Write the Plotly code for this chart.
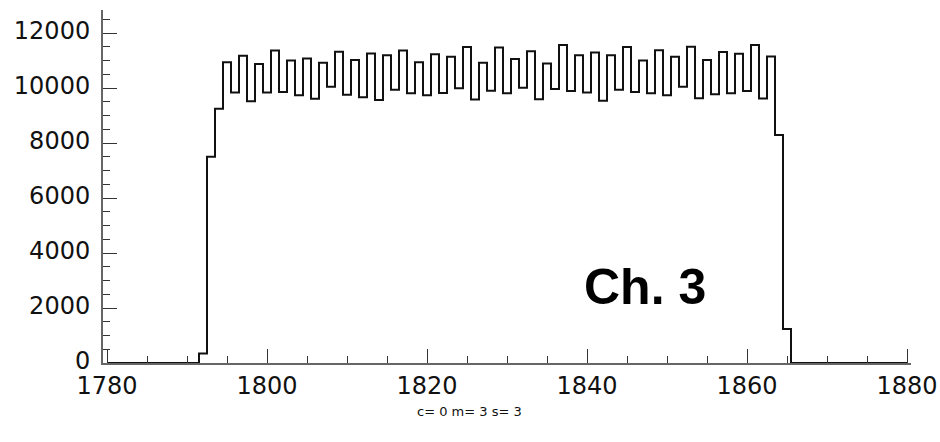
import plotly.graph_objects as go

# Bin centres (unit-wide bins from 1780 to 1880)
bin_centers = list(range(1780, 1881))

# Counts per bin
counts_left_zero = [0] * 12  # 1780..1791
counts_signal = [
    350, 7500, 9250,                      # 1792..1794
    10940, 9840, 11180, 9520, 10880, 9840, 11370, 9860, 11000, 9740,   # 1795..1804
    11080, 9610, 10920, 10050, 11320, 9760, 11020, 9670, 11260, 9570,  # 1805..1814
    11190, 9940, 11370, 9810, 10940, 9740, 11230, 9820, 11140, 9990,   # 1815..1824
    11490, 9580, 10920, 9900, 11480, 9810, 11060, 10010, 11340, 9590,  # 1825..1834
    10890, 9970, 11570, 9890, 11190, 9840, 11290, 9540, 11190, 9940,   # 1835..1844
    11490, 9860, 11000, 9810, 11380, 9740, 11140, 10050, 11500, 9630,  # 1845..1854
    11020, 9780, 11310, 9810, 11250, 9890, 11570, 9620, 11150,         # 1855..1863
    8290, 1240,                           # 1864..1865
]
counts_right_zero = [0] * 15  # 1866..1880
counts = counts_left_zero + counts_signal + counts_right_zero

x_range = [1779.5, 1880.5]
y_range = [0, 12840]
x_tick_vals = [1780, 1800, 1820, 1840, 1860, 1880]
y_tick_vals = [0, 2000, 4000, 6000, 8000, 10000, 12000]

fig = go.Figure()
fig.add_trace(go.Scatter(
    x=bin_centers, y=counts, mode="lines",
    line=dict(color="#111111", width=2, shape="hvh"),
    showlegend=False, hoverinfo="skip",
))

axis_font = dict(family="DejaVu Sans", size=24, color="#111111")

fig.update_xaxes(
    range=x_range, tickmode="array", tickvals=x_tick_vals,
    ticktext=[str(v) for v in x_tick_vals],
    ticks="inside", ticklen=14, tickwidth=1.3, tickcolor="#333333",
    minor=dict(ticks="inside", ticklen=7, dtick=5, tick0=1780, tickcolor="#333333", tickwidth=1.3),
    showline=True, linecolor="#666666", linewidth=2, mirror=False,
    showgrid=False, zeroline=False, tickfont=axis_font, automargin=False,
)
fig.update_yaxes(
    range=y_range, tickmode="array", tickvals=y_tick_vals,
    ticktext=[str(v) for v in y_tick_vals],
    ticks="inside", ticklen=14, tickwidth=1.3, tickcolor="#333333",
    minor=dict(ticks="inside", ticklen=7, dtick=500, tick0=0, tickcolor="#333333", tickwidth=1.3),
    showline=True, linecolor="#666666", linewidth=2, mirror=False,
    showgrid=False, zeroline=False, tickfont=axis_font, ticklabelstandoff=6,
    ticklabelshift=-2, automargin=False,
)

fig.add_annotation(
    x=1847.2, y=2760, xref="x", yref="y", text="<b>Ch. 3</b>",
    showarrow=False, xanchor="center", yanchor="middle",
    font=dict(family="Liberation Sans", size=50, color="#000000"),
)
fig.add_annotation(
    x=0.454, y=-0.136, xref="paper", yref="paper", text="c= 0 m= 3 s= 3",
    showarrow=False, xanchor="center", yanchor="middle",
    font=dict(family="DejaVu Sans", size=13, color="#111111"),
)

fig.update_layout(
    width=940, height=442,
    margin=dict(l=103, r=29, t=10, b=79),
    plot_bgcolor="white", paper_bgcolor="white",
)

fig.write_html("out.html")
